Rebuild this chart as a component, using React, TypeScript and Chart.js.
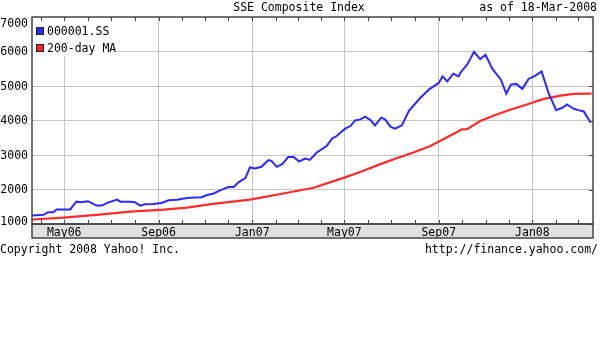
import React, { useEffect, useRef } from 'react';
import { Chart, registerables } from 'chart.js';

Chart.register(...registerables);

// ---------- data ----------
const priceDates = [
  '2006-03-20', '2006-04-04', '2006-04-10', '2006-04-17', '2006-04-21', '2006-05-09', '2006-05-11', '2006-05-17',
  '2006-05-22', '2006-06-01', '2006-06-12', '2006-06-19', '2006-06-26', '2006-07-09', '2006-07-13', '2006-07-26',
  '2006-08-01', '2006-08-08', '2006-08-14', '2006-08-25', '2006-09-05', '2006-09-14', '2006-09-25', '2006-10-08',
  '2006-10-12', '2006-10-27', '2006-11-03', '2006-11-11', '2006-11-20', '2006-12-01', '2006-12-08', '2006-12-14',
  '2006-12-23', '2006-12-29', '2007-01-05', '2007-01-13', '2007-01-22', '2007-01-26', '2007-02-02', '2007-02-09',
  '2007-02-17', '2007-02-24', '2007-03-03', '2007-03-11', '2007-03-17', '2007-03-26', '2007-04-08', '2007-04-15',
  '2007-04-21', '2007-05-02', '2007-05-09', '2007-05-15', '2007-05-22', '2007-05-28', '2007-06-04', '2007-06-10',
  '2007-06-18', '2007-06-23', '2007-06-30', '2007-07-06', '2007-07-15', '2007-07-24', '2007-08-06', '2007-08-19',
  '2007-09-01', '2007-09-06', '2007-09-12', '2007-09-20', '2007-09-27', '2007-09-29', '2007-10-08', '2007-10-17',
  '2007-10-25', '2007-11-01', '2007-11-10', '2007-11-21', '2007-11-28', '2007-12-04', '2007-12-11', '2007-12-19',
  '2007-12-27', '2008-01-05', '2008-01-13', '2008-01-22', '2008-02-01', '2008-02-09', '2008-02-15', '2008-02-24',
  '2008-03-01', '2008-03-08', '2008-03-17',
];
const priceValues = [
  1245, 1265, 1343, 1343, 1418, 1418, 1487, 1648,
  1631, 1660, 1533, 1533, 1611, 1706, 1648, 1648,
  1631, 1533, 1573, 1582, 1611, 1689, 1706, 1755,
  1764, 1775, 1841, 1879, 1977, 2072, 2072, 2207,
  2331, 2640, 2611, 2657, 2850, 2830, 2657, 2735,
  2945, 2945, 2813, 2899, 2859, 3072, 3262, 3476,
  3550, 3764, 3839, 4003, 4032, 4110, 4012, 3859,
  4081, 4032, 3821, 3764, 3859, 4271, 4608, 4896,
  5089, 5280, 5135, 5357, 5280, 5378, 5617, 5990,
  5781, 5905, 5493, 5184, 4781, 5040, 5061, 4916,
  5205, 5300, 5424, 4801, 4300, 4369, 4464, 4340,
  4300, 4262, 3937,
];

const maDates = [
  '2006-03-20', '2006-04-30', '2006-06-12', '2006-07-26', '2006-09-08', '2006-10-08', '2006-11-11', '2006-12-29',
  '2007-02-07', '2007-03-22', '2007-05-02', '2007-05-26', '2007-06-17', '2007-07-08', '2007-07-30', '2007-08-21',
  '2007-09-07', '2007-09-25', '2007-10-01', '2007-10-08', '2007-10-25', '2007-11-12', '2007-12-04', '2007-12-25',
  '2008-01-16', '2008-02-07', '2008-02-24', '2008-03-18',
];
const maValues = [
  1130, 1187, 1265, 1360, 1418, 1476, 1582, 1706,
  1870, 2052, 2352, 2542, 2735, 2908, 3072, 3262,
  3455, 3666, 3744, 3750, 3983, 4147, 4320, 4464,
  4628, 4723, 4770, 4781,
];

const yTickValues = [1000, 2000, 3000, 4000, 5000, 6000, 7000];
const monthNames = ['Jan', 'Feb', 'Mar', 'Apr', 'May', 'Jun', 'Jul', 'Aug', 'Sep', 'Oct', 'Nov', 'Dec'];
const labelledMonths = [0, 4, 8];
const seriesNames = ['000001.SS', '200-day MA'];
const seriesColors = ['#2a2aff', '#ff2a2a'];
const titleText = 'SSE Composite Index';
const asOfText = 'as of 18-Mar-2008';
const copyrightText = 'Copyright 2008 Yahoo! Inc.';
const urlText = 'http://finance.yahoo.com/';
const axisStart = '2006-03-20';
const axisEnd = '2008-03-20';

// ---------- helpers ----------
const dayNum = (s: string) => {
  const [y, m, d] = s.split('-').map(Number);
  return Date.UTC(y, m - 1, d) / 86400000;
};
const monthOf = (v: number) => new Date(v * 86400000).getUTCMonth();
const labelOf = (v: number) => {
  const d = new Date(v * 86400000);
  return monthNames[d.getUTCMonth()] + String(d.getUTCFullYear() % 100).padStart(2, '0');
};
const monthStarts = (() => {
  const out: number[] = [];
  const s = new Date(dayNum(axisStart) * 86400000);
  let y = s.getUTCFullYear();
  let m = s.getUTCMonth() + 1;
  const end = dayNum(axisEnd);
  for (;;) {
    if (m > 11) { m = 0; y++; }
    const v = Date.UTC(y, m, 1) / 86400000;
    if (v > end) break;
    out.push(v);
    m++;
  }
  return out;
})();

const FONT_FAMILY = '"DejaVu Sans Mono", "Liberation Mono", monospace';
const FONT_SIZE = 11.5;
const FONT = `${FONT_SIZE}px ${FONT_FAMILY}`;
const GRID = '#c4c4c4';
const FRAME = '#444444';
const BAND = '#e0e0e0';
const BAND_H = 14;

const yahooPlugin = {
  id: 'yahooDecor',
  beforeDraw(chart: any) {
    const { ctx, chartArea: a } = chart;
    ctx.save();
    ctx.fillStyle = '#ffffff';
    ctx.fillRect(0, 0, chart.width, chart.height);
    ctx.fillStyle = BAND;
    ctx.fillRect(a.left, a.bottom, a.right - a.left, BAND_H);
    ctx.restore();
  },
  afterDatasetsDraw(chart: any) {
    const { ctx, chartArea: a } = chart;
    ctx.save();
    // legend
    ctx.fillStyle = '#ffffff';
    ctx.fillRect(a.left + 1, a.top + 1, 85, 38);
    ctx.font = FONT;
    ctx.textBaseline = 'middle';
    ctx.textAlign = 'left';
    seriesNames.forEach((name, i) => {
      const cy = a.top + 14 + i * 17;
      ctx.fillStyle = seriesColors[i];
      ctx.fillRect(a.left + 5, cy - 3, 6, 6);
      ctx.strokeStyle = '#222';
      ctx.lineWidth = 1;
      ctx.strokeRect(a.left + 4.5, cy - 3.5, 7, 7);
      ctx.fillStyle = '#000';
      ctx.fillText(name, a.left + 15, cy + 1);
    });
    ctx.restore();
  },
  afterDraw(chart: any) {
    const { ctx, chartArea: a, scales } = chart;
    const xs = scales.x;
    const ys = scales.y;
    ctx.save();
    ctx.strokeStyle = FRAME;
    ctx.lineWidth = 1;
    // month ticks top and bottom
    ctx.beginPath();
    monthStarts.forEach((v) => {
      const px = Math.round(xs.getPixelForValue(v)) + 0.5;
      ctx.moveTo(px, a.top);
      ctx.lineTo(px, a.top + 4);
      ctx.moveTo(px, a.bottom);
      ctx.lineTo(px, a.bottom - 4);
    });
    // right-side value ticks
    yTickValues.forEach((v) => {
      const py = Math.round(ys.getPixelForValue(v)) + 0.5;
      ctx.moveTo(a.right, py);
      ctx.lineTo(a.right - 4, py);
    });
    ctx.stroke();
    // frame + band
    ctx.lineWidth = 1.5;
    ctx.strokeRect(a.left, a.top, a.right - a.left, a.bottom - a.top);
    ctx.strokeRect(a.left, a.bottom, a.right - a.left, BAND_H);

    // y labels
    ctx.fillStyle = '#000';
    ctx.font = FONT;
    ctx.textAlign = 'right';
    ctx.textBaseline = 'middle';
    yTickValues.forEach((v) => {
      let py = ys.getPixelForValue(v);
      py = Math.max(a.top + 7, Math.min(a.bottom - 2, py + 1));
      ctx.fillText(String(v), a.left - 4, py);
    });

    // titles
    ctx.textAlign = 'center';
    ctx.fillText(titleText, 299, 8);
    ctx.textAlign = 'right';
    ctx.fillText(asOfText, 597, 8);
    ctx.textAlign = 'left';
    ctx.fillText(copyrightText, 0, 250);
    ctx.textAlign = 'right';
    ctx.fillText(urlText, 598, 250);
    ctx.restore();
  },
};

export default function App() {
  const ref = useRef<HTMLCanvasElement | null>(null);
  useEffect(() => {
    if (!ref.current) return;
    const chart = new Chart(ref.current, {
      type: 'line',
      data: {
        datasets: [
          {
            label: seriesNames[0],
            data: priceDates.map((d, i) => ({ x: dayNum(d), y: priceValues[i] })),
            borderColor: seriesColors[0],
            borderWidth: 2,
            pointRadius: 0,
            tension: 0,
            fill: false,
          },
          {
            label: seriesNames[1],
            data: maDates.map((d, i) => ({ x: dayNum(d), y: maValues[i] })),
            borderColor: seriesColors[1],
            borderWidth: 2.2,
            pointRadius: 0,
            tension: 0,
            fill: false,
          },
        ],
      },
      options: {
        animation: false,
        responsive: false,
        devicePixelRatio: 1,
        layout: { padding: { top: 17, right: 7, bottom: 338 - 224 - BAND_H, left: 0 } },
        plugins: { legend: { display: false }, tooltip: { enabled: false }, title: { display: false } },
        scales: {
          x: {
            type: 'linear',
            min: dayNum(axisStart),
            max: dayNum(axisEnd),
            afterBuildTicks: (s: any) => {
              s.ticks = monthStarts.map((v) => ({ value: v }));
            },
            afterFit: (s: any) => {
              s.height = BAND_H;
            },
            border: { display: false },
            grid: {
              drawTicks: false,
              color: (c: any) =>
                c.tick && labelledMonths.includes(monthOf(c.tick.value)) ? GRID : 'rgba(0,0,0,0)',
              lineWidth: 1,
            },
            ticks: {
              autoSkip: false,
              maxRotation: 0,
              padding: 2,
              color: '#000',
              font: { family: FONT_FAMILY, size: FONT_SIZE },
              callback: (v: any) => (labelledMonths.includes(monthOf(Number(v))) ? labelOf(Number(v)) : ''),
            },
          },
          y: {
            type: 'linear',
            min: 1000,
            max: 7000,
            afterBuildTicks: (s: any) => {
              s.ticks = yTickValues.map((v) => ({ value: v }));
            },
            afterFit: (s: any) => {
              s.width = 32;
            },
            border: { display: false },
            grid: {
              drawTicks: false,
              color: (c: any) =>
                c.tick && (c.tick.value === 1000 || c.tick.value === 7000) ? 'rgba(0,0,0,0)' : GRID,
            },
            ticks: { display: false },
          },
        },
      },
      plugins: [yahooPlugin],
    } as any);
    return () => chart.destroy();
  }, []);
  return (
    <div style={{ position: 'absolute', left: 0, top: 0, width: 600, height: 338, background: '#fff' }}>
      <canvas ref={ref} width={600} height={338} style={{ display: 'block', width: 600, height: 338 }} />
    </div>
  );
}
